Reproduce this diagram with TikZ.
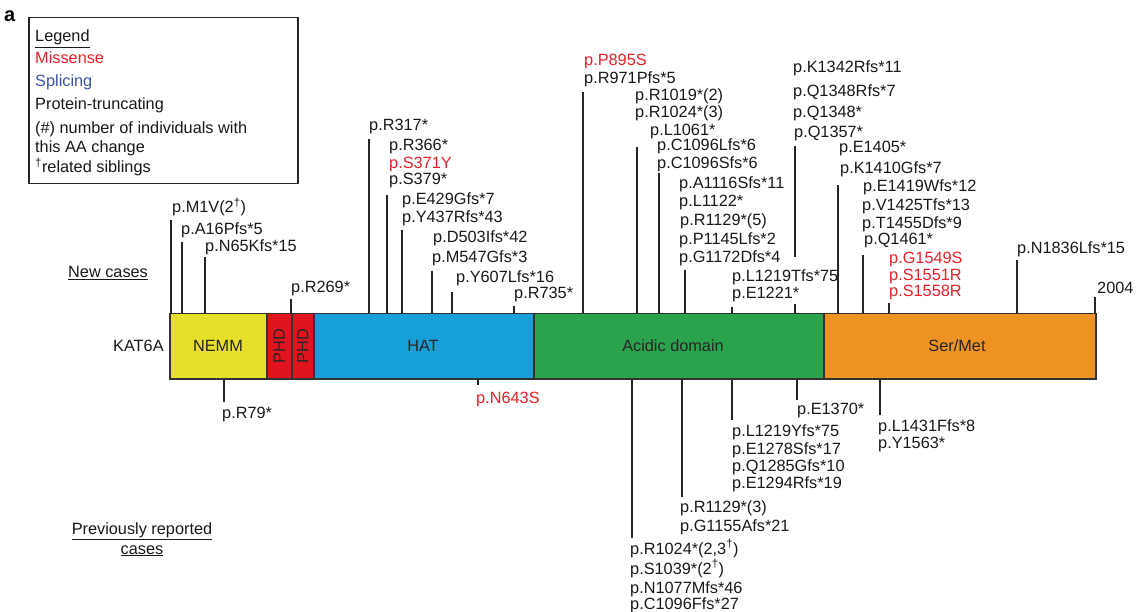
\documentclass[tikz,border=0pt]{standalone}
\usepackage{fontspec}
\setmainfont{Liberation Sans}
\newcommand\labfont{\fontsize{16.3}{19}\selectfont}
\definecolor{missred}{HTML}{E8202A}
\definecolor{splblue}{HTML}{3A55A4}
\definecolor{nemmY}{HTML}{E6E02A}
\definecolor{phdR}{HTML}{E0141E}
\definecolor{hatB}{HTML}{179FD9}
\definecolor{acidG}{HTML}{2BA24C}
\definecolor{serO}{HTML}{EE9224}
\definecolor{edge}{HTML}{333333}
\tikzset{
  lab/.style={anchor=base west, inner sep=0pt, font=\labfont, text=black!90},
  mis/.style={text=missred},
  stem/.style={line width=1.3pt, draw=black!85},
  dom/.style={draw=edge, line width=1.5pt, anchor=north west, inner sep=0pt, minimum height=65pt, font=\labfont, text=black!85},
}
\begin{document}
\begin{tikzpicture}[x=1pt,y=-1pt]
\useasboundingbox (0,0) rectangle (1138,612);
% panel letter
\node[anchor=base west, inner sep=0pt, font=\fontsize{20}{22}\selectfont\bfseries] (lettera) at (4,22) {a};
% legend
\node[draw=black!85, line width=1.5pt, anchor=north west, minimum width=269pt, minimum height=166pt, inner sep=0pt] (legbox) at (28,17) {};
\node[lab] (lg1) at (35,42) {\underline{Legend}};
\node[lab, text=missred] (lg2) at (35,64) {Missense};
\node[lab, text=splblue] (lg3) at (35,87) {Splicing};
\node[lab] (lg4) at (35,110) {Protein-truncating};
\node[lab] (lg5) at (35,134) {(\#) number of individuals with};
\node[lab] (lg6) at (35,153) {this AA change};
\node[lab] (lg7) at (35,173) {\textsuperscript{†}related siblings};
% section labels
\node[lab] (newc) at (68,278) {\underline{New cases}};
\node[lab, anchor=base] (prev1) at (142,534) {\underline{Previously reported}};
\node[lab, anchor=base] (prev2) at (142,554) {\underline{cases}};
\node[lab] (kat) at (113,352) {KAT6A};
% domains
\node[dom, fill=nemmY, minimum width=97pt] (nemm) at (169,313) {};
\node[dom, fill=phdR, minimum width=25pt] (phd1) at (266,313) {};
\node[dom, fill=phdR, minimum width=22pt] (phd2) at (291,313) {};
\node[dom, fill=hatB, minimum width=220pt] (hat) at (313,313) {};
\node[dom, fill=acidG, minimum width=290pt] (acid) at (533,313) {};
\node[dom, fill=serO, minimum width=272pt] (ser) at (823,313) {};
\node[lab, anchor=base, text=black!85] (tnemm) at (218,352) {NEMM};
\node[font=\labfont, rotate=90, inner sep=0pt, text=black!85] (tphd1) at (phd1.center) {PHD};
\node[font=\labfont, rotate=90, inner sep=0pt, text=black!85] (tphd2) at (phd2.center) {PHD};
\node[lab, anchor=base, text=black!85] (thad) at (423,352) {HAT};
\node[lab, anchor=base, text=black!85] (tacid) at (673,352) {Acidic domain};
\node[lab, anchor=base, text=black!85] (tser) at (957,352) {Ser/Met};
% ---- top stems ----
\foreach \n/\x/\y in {a/171/220, b/182/242, c/205/257, d/291/299, e/369/139, f/387/195, g/402/230, h/432/271, i/452/292, j/514/306, k/583/92, l/637/147, m/659/173, n/685/270, o/732/307, q/838/185, r/863/255, s/889/303, t/1017/260, u/1095/297}{
  \coordinate (top\n) at (\x,\y);
  \draw[stem] (top\n) -- (top\n |- nemm.north);
}
% stem of p.K1342Rfs*11 group, interrupted around the p.L1219Tfs*75 / p.E1221* labels
\coordinate (topp) at (795,146);
\coordinate (gapa) at (795,257);
\coordinate (gapb) at (795,304);
\draw[stem] (topp) -- (gapa);
\draw[stem] (gapb) -- (gapb |- nemm.north);
% ---- bottom stems ----
\foreach \n/\x/\y in {a/224/402, b/478/385, c/632/538, d/682/497, e/732/420, f/797/400, g/880/415}{
  \coordinate (bot\n) at (\x,\y);
  \draw[stem] (bot\n |- nemm.south) -- (bot\n);
}
% ---- top labels ----
\node[lab] (M1V) at (172,213) {p.M1V(2\textsuperscript{†})};
\node[lab] (A16) at (181,235) {p.A16Pfs*5};
\node[lab] (N65) at (205,252) {p.N65Kfs*15};
\node[lab] (R269) at (291,293) {p.R269*};
\node[lab] (R317) at (369,131) {p.R317*};
\node[lab] (R366) at (389,151) {p.R366*};
\node[lab, mis] (S371) at (389,169) {p.S371Y};
\node[lab] (S379) at (389,185) {p.S379*};
\node[lab] (E429) at (402,205) {p.E429Gfs*7};
\node[lab] (Y437) at (402,223) {p.Y437Rfs*43};
\node[lab] (D503) at (433,243) {p.D503Ifs*42};
\node[lab] (M547) at (432,263) {p.M547Gfs*3};
\node[lab] (Y607) at (456,283) {p.Y607Lfs*16};
\node[lab] (R735) at (514,299) {p.R735*};
\node[lab, mis] (P895) at (584,66) {p.P895S};
\node[lab] (R971) at (584,84) {p.R971Pfs*5};
\node[lab] (R1019) at (635,101) {p.R1019*(2)};
\node[lab] (R1024) at (635,118) {p.R1024*(3)};
\node[lab] (L1061) at (650,136) {p.L1061*};
\node[lab] (C1096L) at (657,151) {p.C1096Lfs*6};
\node[lab] (C1096S) at (657,169) {p.C1096Sfs*6};
\node[lab] (A1116) at (679,189) {p.A1116Sfs*11};
\node[lab] (L1122) at (679,207) {p.L1122*};
\node[lab] (R1129t) at (680,226) {p.R1129*(5)};
\node[lab] (P1145) at (679,245) {p.P1145Lfs*2};
\node[lab] (G1172) at (679,263) {p.G1172Dfs*4};
\node[lab] (L1219T) at (732,282) {p.L1219Tfs*75};
\node[lab] (E1221) at (732,299) {p.E1221*};
\node[lab] (K1342) at (793,73) {p.K1342Rfs*11};
\node[lab] (Q1348R) at (793,97) {p.Q1348Rfs*7};
\node[lab] (Q1348) at (793,118) {p.Q1348*};
\node[lab] (Q1357) at (794,138) {p.Q1357*};
\node[lab] (E1405) at (839,153) {p.E1405*};
\node[lab] (K1410) at (840,174) {p.K1410Gfs*7};
\node[lab] (E1419) at (863,192) {p.E1419Wfs*12};
\node[lab] (V1425) at (862,211) {p.V1425Tfs*13};
\node[lab] (T1455) at (862,229) {p.T1455Dfs*9};
\node[lab] (Q1461) at (864,245) {p.Q1461*};
\node[lab, mis] (G1549) at (889,264) {p.G1549S};
\node[lab, mis] (S1551) at (889,281) {p.S1551R};
\node[lab, mis] (S1558) at (889,297) {p.S1558R};
\node[lab] (N1836) at (1017,254) {p.N1836Lfs*15};
\node[lab] (end) at (1097,294) {2004};
% ---- bottom labels ----
\node[lab] (R79) at (222,418) {p.R79*};
\node[lab, mis] (N643) at (476,403) {p.N643S};
\node[lab] (R1024b) at (630,554) {p.R1024*(2,3\textsuperscript{†})};
\node[lab] (S1039) at (630,574) {p.S1039*(2\textsuperscript{†})};
\node[lab] (N1077) at (630,593) {p.N1077Mfs*46};
\node[lab] (C1096F) at (630,609) {p.C1096Ffs*27};
\node[lab] (R1129b) at (680,512) {p.R1129*(3)};
\node[lab] (G1155) at (680,531) {p.G1155Afs*21};
\node[lab] (L1219Y) at (732,436) {p.L1219Yfs*75};
\node[lab] (E1278) at (732,454) {p.E1278Sfs*17};
\node[lab] (Q1285) at (732,471) {p.Q1285Gfs*10};
\node[lab] (E1294) at (732,488) {p.E1294Rfs*19};
\node[lab] (E1370) at (797,414) {p.E1370*};
\node[lab] (L1431) at (878,431) {p.L1431Ffs*8};
\node[lab] (Y1563) at (878,448) {p.Y1563*};
\end{tikzpicture}
\end{document}
